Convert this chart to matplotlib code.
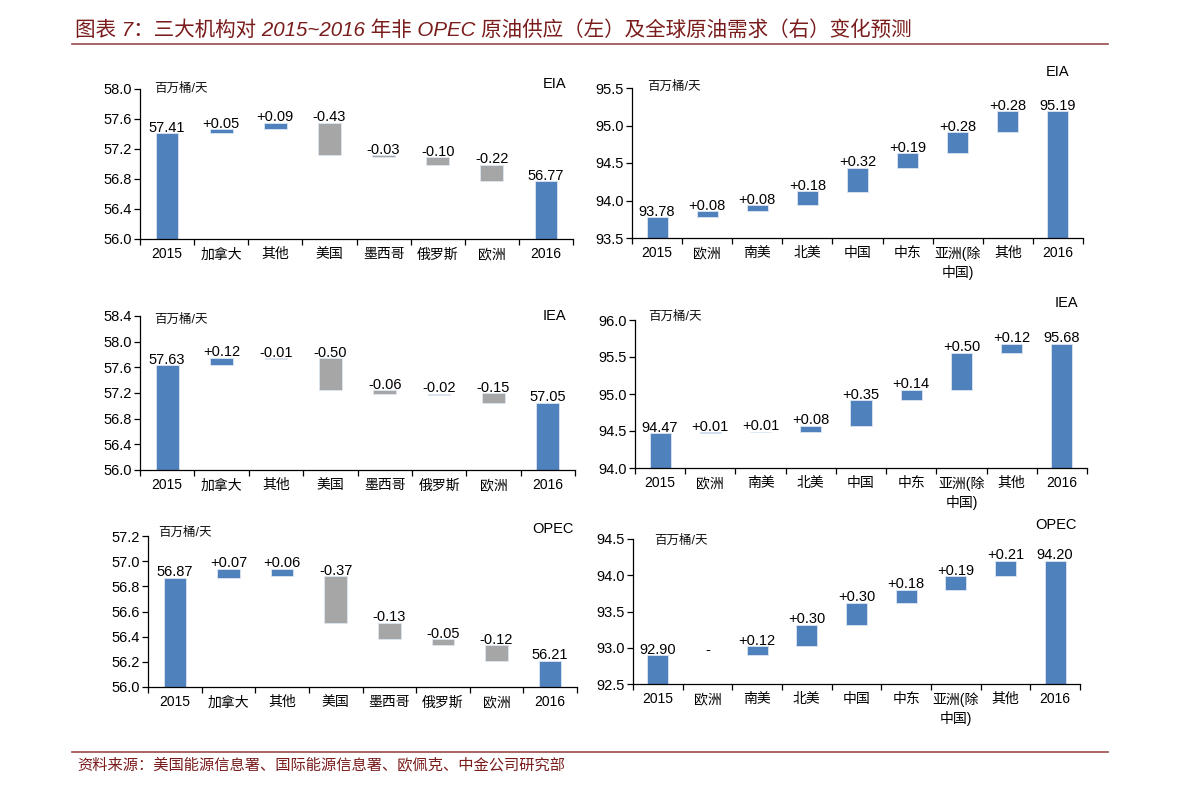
import numpy as np
import matplotlib
matplotlib.use("Agg")
import matplotlib.pyplot as plt
from matplotlib.lines import Line2D

plt.rcParams['font.family'] = ['Liberation Sans', 'Noto Sans CJK SC', 'DejaVu Sans']

W, H = 1191, 792
BLUE = '#4F81BD'
GRAY = '#A6A6A6'
RED = '#7A1C1C'

# ---- data: supply (left column) ----
supply_cats = ['2015', '加拿大', '其他', '美国', '墨西哥', '俄罗斯', '欧洲', '2016']

eia_s_base = [0, 57.41, 57.46, 57.12, 57.09, 56.99, 56.77, 0]
eia_s_size = [57.41, 0.05, 0.09, 0.43, 0.03, 0.10, 0.22, 56.77]
eia_s_text = ['57.41', '+0.05', '+0.09', '-0.43', '-0.03', '-0.10', '-0.22', '56.77']

iea_s_base = [0, 57.63, 57.73, 57.24, 57.18, 57.17, 57.05, 0]
iea_s_size = [57.63, 0.12, 0.01, 0.50, 0.06, 0.02, 0.15, 57.05]
iea_s_text = ['57.63', '+0.12', '-0.01', '-0.50', '-0.06', '-0.02', '-0.15', '57.05']

opec_s_base = [0, 56.87, 56.88, 56.51, 56.38, 56.33, 56.21, 0]
opec_s_size = [56.87, 0.07, 0.06, 0.37, 0.13, 0.05, 0.12, 56.21]
opec_s_text = ['56.87', '+0.07', '+0.06', '-0.37', '-0.13', '-0.05', '-0.12', '56.21']

# ---- data: demand (right column) ----
demand_cats = ['2015', '欧洲', '南美', '北美', '中国', '中东', '亚洲(除\n中国)', '其他', '2016']

eia_d_base = [0, 93.78, 93.86, 93.94, 94.12, 94.44, 94.63, 94.91, 0]
eia_d_size = [93.78, 0.08, 0.08, 0.18, 0.32, 0.19, 0.28, 0.28, 95.19]
eia_d_text = ['93.78', '+0.08', '+0.08', '+0.18', '+0.32', '+0.19', '+0.28', '+0.28', '95.19']

iea_d_base = [0, 94.47, 94.48, 94.49, 94.57, 94.92, 95.06, 95.56, 0]
iea_d_size = [94.47, 0.01, 0.01, 0.08, 0.35, 0.14, 0.50, 0.12, 95.68]
iea_d_text = ['94.47', '+0.01', '+0.01', '+0.08', '+0.35', '+0.14', '+0.50', '+0.12', '95.68']

opec_d_base = [0, 92.90, 92.90, 93.02, 93.32, 93.62, 93.80, 93.99, 0]
opec_d_size = [92.90, 0.0, 0.12, 0.30, 0.30, 0.18, 0.19, 0.21, 94.20]
opec_d_text = ['92.90', '-', '+0.12', '+0.30', '+0.30', '+0.18', '+0.19', '+0.21', '94.20']

# axes boxes in pixels: left, top, right, bottom ; y ticks ; source label pos ; unit label pos
charts = [
    dict(box=(140, 89, 573, 239), cats=supply_cats, base=eia_s_base, size=eia_s_size, text=eia_s_text,
         yt=np.arange(56.0, 58.01, 0.4), name='EIA', npos=(555, 84), upos=(154, 89)),
    dict(box=(632, 88, 1083, 238), cats=demand_cats, base=eia_d_base, size=eia_d_size, text=eia_d_text,
         yt=np.arange(93.5, 95.51, 0.5), name='EIA', npos=(1058, 72), upos=(647, 87)),
    dict(box=(140, 316, 575, 470), cats=supply_cats, base=iea_s_base, size=iea_s_size, text=iea_s_text,
         yt=np.arange(56.0, 58.41, 0.4), name='IEA', npos=(554, 316), upos=(154, 320)),
    dict(box=(635, 320, 1087, 468), cats=demand_cats, base=iea_d_base, size=iea_d_size, text=iea_d_text,
         yt=np.arange(94.0, 96.01, 0.5), name='IEA', npos=(1066, 303), upos=(648, 317)),
    dict(box=(148, 536, 577, 687), cats=supply_cats, base=opec_s_base, size=opec_s_size, text=opec_s_text,
         yt=np.arange(56.0, 57.21, 0.2), name='OPEC', npos=(553, 529), upos=(158, 533)),
    dict(box=(633, 539, 1080, 684), cats=demand_cats, base=opec_d_base, size=opec_d_size, text=opec_d_text,
         yt=np.arange(92.5, 94.51, 0.5), name='OPEC', npos=(1056, 525), upos=(654, 541)),
]

fig = plt.figure(figsize=(W / 100, H / 100), dpi=100)

for c in charts:
    l, t, r, b = c['box']
    ax = fig.add_axes([l / W, 1 - b / H, (r - l) / W, (b - t) / H])
    n = len(c['cats'])
    x = np.arange(n)
    cols = []
    lws = []
    for i in range(n):
        if i == 0 or i == n - 1 or c['text'][i].startswith('+'):
            cols.append(BLUE)
        else:
            cols.append(GRAY)
        lws.append(0.6 if c['size'][i] > 0 else 0)
    ax.bar(x, c['size'], bottom=c['base'], width=0.42, color=cols,
           edgecolor='#DCE6F2', linewidth=lws, zorder=2)
    for i in range(n):
        top = c['base'][i] + c['size'][i]
        ax.annotate(c['text'][i], (x[i], top), xytext=(0, 1), textcoords='offset points',
                    ha='center', va='baseline', fontsize=10.5, color='black', zorder=3)

    ax.set_xlim(-0.5, n - 0.5)
    ax.set_ylim(c['yt'][0], c['yt'][-1])
    ax.set_yticks(c['yt'])
    ax.set_yticklabels(['%.1f' % v for v in c['yt']], fontsize=10.5)
    ax.set_xticks(np.arange(-0.5, n, 1))
    ax.set_xticklabels([])
    ax.set_xticks(x, minor=True)
    ax.set_xticklabels(c['cats'], minor=True, fontsize=10, linespacing=1.3)
    ax.tick_params(axis='x', which='major', direction='out', length=4, width=0.9, color='black')
    ax.tick_params(axis='x', which='minor', length=0, pad=6)
    ax.tick_params(axis='y', direction='out', length=4, width=0.9, color='black', pad=2)
    for s in ['top', 'right']:
        ax.spines[s].set_visible(False)
    for s in ['left', 'bottom']:
        ax.spines[s].set_color('black')
        ax.spines[s].set_linewidth(0.9)

    nx, ny = c['npos']
    fig.text(nx / W, 1 - ny / H, c['name'], ha='center', va='center', fontsize=10.5)
    ux, uy = c['upos']
    fig.text(ux / W, 1 - uy / H, '百万桶/天', ha='left', va='center', fontsize=9, color='#111111')

# title, rules and source
fig.text(75 / W, 1 - 30 / H, '图表 7：三大机构对 2015~2016 年非 OPEC 原油供应（左）及全球原油需求（右）变化预测',
         ha='left', va='center', fontsize=14.8, color=RED, style='italic')
fig.add_artist(Line2D([72 / W, 1108 / W], [1 - 44 / H, 1 - 44 / H], color='#9B4A4A', lw=1.2))
fig.add_artist(Line2D([72 / W, 1108 / W], [1 - 752 / H, 1 - 752 / H], color='#9B4A4A', lw=1.2))
fig.text(77 / W, 1 - 765 / H, '资料来源：美国能源信息署、国际能源信息署、欧佩克、中金公司研究部',
         ha='left', va='center', fontsize=11, color=RED, style='italic')

fig.savefig('out.png', dpi=100)
